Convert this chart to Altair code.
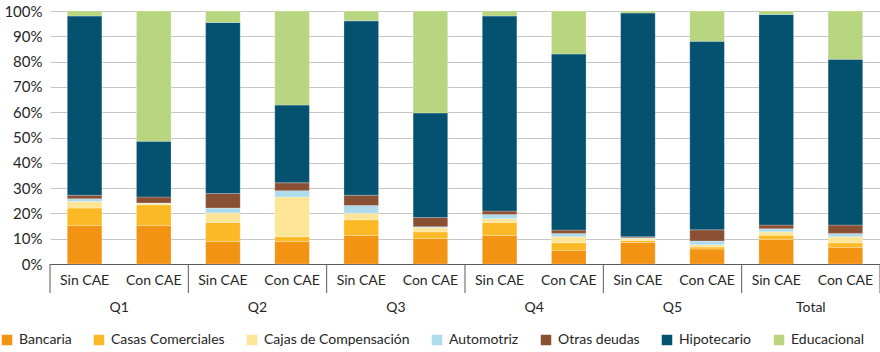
import altair as alt
import pandas as pd

quintiles = ["Q1", "Q1", "Q2", "Q2", "Q3", "Q3", "Q4", "Q4", "Q5", "Q5", "Total", "Total"]
groups = ["Sin CAE", "Con CAE"] * 6
series = ["Bancaria", "Casas Comerciales", "Cajas de Compensación", "Automotriz",
          "Otras deudas", "Hipotecario", "Educacional"]
colors = ["#F39314", "#FBBA25", "#FDE597", "#AEDCEC", "#8A5034", "#045170", "#B8D580"]

bancaria = [15.2, 15.2, 8.9, 8.9, 11.3, 10.1, 11.3, 5.4, 8.5, 5.9, 9.7, 6.6]
casas = [6.9, 8.2, 7.5, 1.9, 6.2, 2.6, 5.1, 3.0, 0.8, 0.8, 1.7, 1.8]
cajas = [2.6, 0.5, 3.8, 15.7, 2.6, 1.6, 1.5, 2.4, 0.8, 0.9, 1.3, 2.4]
automotriz = [1.1, 0.2, 1.9, 2.5, 3.0, 0.4, 1.7, 1.3, 0.3, 1.5, 1.2, 1.3]
otras = [1.4, 2.4, 5.8, 3.1, 4.1, 3.7, 1.3, 1.3, 0.4, 4.4, 1.5, 3.3]
hipotecario = [70.8, 22.0, 67.6, 30.7, 68.9, 41.3, 77.1, 69.6, 88.4, 74.5, 83.2, 65.5]
educacional = [2.0, 51.5, 4.5, 37.2, 3.9, 40.3, 2.0, 17.0, 0.8, 12.0, 1.4, 19.1]

all_vals = [bancaria, casas, cajas, automotriz, otras, hipotecario, educacional]

rows = []
for i, (q, g) in enumerate(zip(quintiles, groups)):
    key = f"{q}|{g}"
    for j, (s, vals) in enumerate(zip(series, all_vals)):
        rows.append(dict(key=key, quintil=q, grupo=g, serie=s, orden=j, valor=vals[i]))
df = pd.DataFrame(rows)
keys = [f"{q}|{g}" for q, g in zip(quintiles, groups)]

FONT = "Lato"
TXT = "#262626"
H = 253
W = 830

x_scale = alt.Scale(domain=keys, paddingInner=0, paddingOuter=0)

bars = alt.Chart(df).mark_bar(width={"band": 0.5}, stroke="white", strokeWidth=0.4, strokeOpacity=0.6).encode(
    x=alt.X("key:N", scale=x_scale, sort=keys,
            axis=alt.Axis(title=None, labelExpr="split(datum.value, '|')[1]", labelAngle=0,
                          ticks=False, domainColor="#595959", domainWidth=1,
                          labelFontSize=14, labelPadding=9, labelColor=TXT, labelFont=FONT)),
    y=alt.Y("valor:Q", stack="normalize", scale=alt.Scale(domain=[0, 1], nice=False),
            axis=alt.Axis(format=".0%", values=[i / 10 for i in range(11)], title=None,
                          ticks=False, domain=False, gridColor="#C6C6C6", gridWidth=1,
                          labelPadding=8, labelFontSize=15, labelColor=TXT, labelFont=FONT)),
    color=alt.Color("serie:N", scale=alt.Scale(domain=series, range=colors),
                    legend=alt.Legend(title=None, orient="none", legendX=-50, legendY=322,
                                      direction="horizontal", columns=7, symbolType="square",
                                      symbolSize=110, symbolStrokeWidth=0, labelFontSize=14,
                                      labelFont=FONT, labelColor=TXT, columnPadding=20,
                                      labelOffset=5)),
    order=alt.Order("orden:Q", sort="ascending"),
)

sep_start = pd.DataFrame({"key": [k for k in keys if k.endswith("Sin CAE")]})
sep_end = pd.DataFrame({"key": [keys[-1]]})

rules_start = alt.Chart(sep_start).mark_rule(color="#595959", strokeWidth=1).encode(
    x=alt.X("key:N", scale=x_scale, sort=keys, bandPosition=0),
    y=alt.value(H), y2=alt.value(H + 29),
)
rules_end = alt.Chart(sep_end).mark_rule(color="#595959", strokeWidth=1).encode(
    x=alt.X("key:N", scale=x_scale, sort=keys, bandPosition=1),
    y=alt.value(H), y2=alt.value(H + 29),
)

grp_df = pd.DataFrame({"key": [k for k in keys if k.endswith("Sin CAE")],
                       "quintil": [q for q, g in zip(quintiles, groups) if g == "Sin CAE"]})
grp_text = alt.Chart(grp_df).mark_text(fontSize=14, font=FONT, color=TXT, baseline="middle").encode(
    x=alt.X("key:N", scale=x_scale, sort=keys, bandPosition=1),
    y=alt.value(H + 44),
    text="quintil:N",
)

chart = alt.layer(bars, rules_start, rules_end, grp_text).properties(
    width=W, height=H,
    autosize=alt.AutoSizeParams(type="none"),
    padding={"left": 50, "top": 11, "right": 0, "bottom": 88},
).configure_view(stroke="transparent")

chart.save("out.html", embed_options={"renderer": "svg", "actions": False})
